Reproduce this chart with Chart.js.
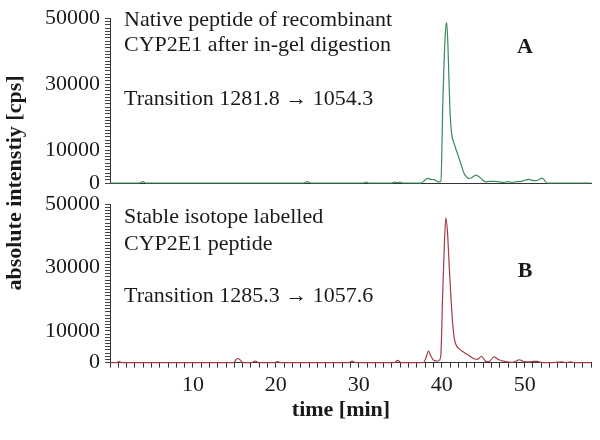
<!DOCTYPE html>
<html>
<head>
<meta charset="utf-8">
<script src="https://cdn.jsdelivr.net/npm/chart.js@4.4.1/dist/chart.umd.min.js"></script>
<style>
  html, body { margin: 0; padding: 0; background: #fff; }
  #wrap { position: relative; width: 600px; height: 440px; }
  #wrap canvas { position: absolute; left: 0; top: 0; }
</style>
</head>
<body>
<div id="wrap">
  <canvas id="chartA" width="600" height="440"></canvas>
  <canvas id="chartB" width="600" height="440"></canvas>
</div>
<script>
// retention time [min] / intensity [cps]
const timeA = [0, 3.6, 3.95, 4.3, 23.4, 23.8, 24.2, 30.6, 30.9, 31.2, 34.0, 34.3, 34.6, 35.0, 35.3,
  37.5, 37.9, 38.3, 38.7, 39.1, 39.6, 39.9, 40.15, 40.45, 40.6, 40.75, 40.87, 41.0, 41.2, 41.5, 41.9,
  42.3, 42.7, 43.0, 43.2, 43.6, 44.1, 44.5, 44.9, 45.3, 45.8, 46.4, 47.0, 47.5, 48.0, 48.5, 49.0,
  49.6, 50.1, 50.5, 50.9, 51.3, 51.7, 52.1, 52.4, 52.7, 58];
const intensityA = [0, 0, 400, 0, 0, 400, 0, 0, 300, 0, 0, 300, 100, 300, 0,
  0, 700, 1400, 1100, 1000, 300, 600, 26000, 46000, 48700, 41600, 31600, 21700, 14900, 11900, 8900,
  5900, 2900, 1900, 1400, 1600, 2400, 1900, 1000, 300, 500, 500, 300, 200, 400, 200, 400,
  500, 900, 1100, 800, 700, 1000, 1500, 800, 0, 0];

const timeB = [0, 0.8, 1.1, 1.4, 14.9, 15.2, 15.4, 15.7, 16.0, 17.1, 17.5, 17.9, 19.9, 20.2, 20.5,
  28.8, 29.2, 29.6, 34.3, 34.7, 35.1, 37.8, 38.1, 38.4, 38.7, 39.1, 39.5, 39.7, 39.9,
  40.1, 40.3, 40.5, 40.7, 40.9, 41.1, 41.3, 41.5, 41.7, 42.1, 42.7, 43.3, 43.9, 44.3, 44.8, 45.3, 45.7,
  46.3, 46.9, 47.7, 48.5, 49.0, 49.3, 49.6, 49.9, 50.5, 51.1, 51.5, 51.9, 53.0, 54.5, 55.0, 55.5, 56.0, 58];
const intensityB = [0, 0, 300, 0, 0, 900, 1300, 800, 0, 0, 500, 0, 0, 300, 0,
  0, 500, 0, 0, 700, 0, 0, 1500, 3600, 2000, 600, 500, 700, 2700,
  20300, 35800, 45600, 40900, 30600, 21000, 13000, 7900, 5800, 4300, 3200, 2200, 1200, 1000, 2000, 400, 300,
  1800, 900, 300, 100, 500, 900, 700, 300, 200, 400, 400, 100, 0, 200, 0, 200, 0, 0];

const yLabelTicks = [0, 10000, 30000, 50000];
const xLabelTicks = [10, 20, 30, 40, 50];

const textA = ['Native peptide of recombinant', 'CYP2E1 after in-gel digestion', 'Transition 1281.8 \u2192 1054.3'];
const textB = ['Stable isotope labelled', 'CYP2E1 peptide', 'Transition 1285.3 \u2192 1057.6'];
const yTitle = 'absolute intenstiy [cps]';
const xTitle = 'time [min]';

const FONT = '"Liberation Serif", "Times New Roman", serif';
Chart.defaults.font.family = FONT;
Chart.defaults.color = '#1a1a1a';

// panel captions + shared axis titles
const captions = {
  id: 'captions',
  afterDraw(chart, args, o) {
    const { ctx, chartArea } = chart;
    ctx.save();
    ctx.fillStyle = '#1a1a1a';
    ctx.textBaseline = 'alphabetic';
    ctx.textAlign = 'left';
    ctx.font = '22px ' + FONT;
    o.lines.forEach((s, i) => ctx.fillText(s, chartArea.left + 14, chartArea.top + o.baselines[i]));
    ctx.font = 'bold 22px ' + FONT;
    ctx.textAlign = 'center';
    ctx.fillText(o.letter, 525, chartArea.top + o.letterBase);
    if (o.yTitle) {
      ctx.translate(15, 183);
      ctx.rotate(-Math.PI / 2);
      ctx.textBaseline = 'middle';
      ctx.fillText(o.yTitle, 0, 0);
    }
    if (o.xTitle) {
      ctx.textBaseline = 'middle';
      ctx.fillText(o.xTitle, 341, 410);
    }
    ctx.restore();
  }
};

function makeChart(id, times, values, color, pad, showX, capt) {
  return new Chart(document.getElementById(id), {
    type: 'line',
    data: {
      datasets: [{
        data: times.map((t, i) => ({ x: t, y: values[i] })),
        borderColor: color,
        borderWidth: 1.2,
        pointRadius: 0,
        cubicInterpolationMode: 'monotone',
        clip: false
      }]
    },
    options: {
      responsive: false,
      animation: false,
      events: [],
      layout: { padding: pad },
      plugins: { legend: { display: false }, tooltip: { enabled: false }, captions: capt },
      scales: {
        x: {
          type: 'linear', min: 0, max: 58,
          border: { display: true, color: '#333', width: 1 },
          grid: { display: showX, drawOnChartArea: false, drawTicks: showX, tickLength: 5, tickColor: '#333' },
          ticks: {
            display: showX, stepSize: 1, autoSkip: false, maxRotation: 0, padding: 4,
            font: { size: 22 }, color: '#1a1a1a',
            callback: v => xLabelTicks.includes(v) ? String(v) : ''
          }
        },
        y: {
          min: 0, max: 50000,
          afterFit: s => { s.width = 110; },
          border: { display: true, color: '#333', width: 1 },
          grid: { drawOnChartArea: false, tickLength: 5, tickColor: '#444' },
          ticks: {
            stepSize: 1000, autoSkip: false, padding: 5,
            font: { size: 22 }, color: '#1a1a1a',
            callback: v => yLabelTicks.includes(v) ? String(v) : ''
          }
        }
      }
    },
    plugins: [captions]
  });
}

makeChart('chartA', timeA, intensityA, '#3a8a5e',
  { top: 15, bottom: 257, left: 0, right: 9 }, false,
  { lines: textA, baselines: [8, 33, 87], letter: 'A', letterBase: 35, yTitle: yTitle });

makeChart('chartB', timeB, intensityB, '#a03c46',
  { top: 204, bottom: 38, left: 0, right: 9 }, true,
  { lines: textB, baselines: [19, 46, 98], letter: 'B', letterBase: 73, xTitle: xTitle });
</script>
</body>
</html>
